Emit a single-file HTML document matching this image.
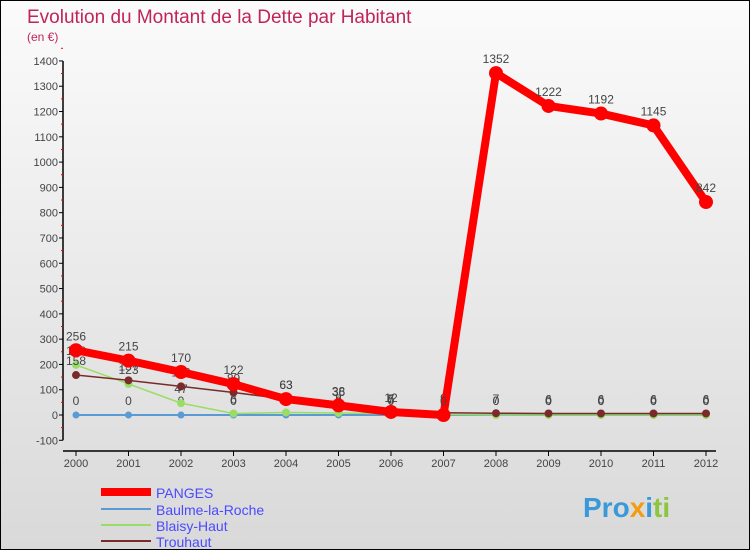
<!DOCTYPE html>
<html><head><meta charset="utf-8"><style>
body{margin:0;}
#c{width:748px;height:548px;border:1px solid #000;background:linear-gradient(#fbfbfb,#d9d9d9);position:relative;font-family:"Liberation Sans",sans-serif;overflow:hidden}
</style></head><body>
<div id="c">
<svg width="748" height="548" id="s">
<text x="26" y="22" font-size="19" fill="#c0245a">Evolution du Montant de la Dette par Habitant</text>
<text x="26" y="40" font-size="12" fill="#c0245a">(en €)</text>
<g id="axes"></g><g id="series"></g>
<g>
<line x1="100" y1="491" x2="150" y2="491" stroke="#f00" stroke-width="8"/>
<text x="155" y="497" font-size="14" fill="#4a4aff">PANGES</text>
<line x1="100" y1="508" x2="150" y2="508" stroke="#5b9bd5" stroke-width="2"/>
<text x="155" y="514" font-size="14" fill="#4a4aff">Baulme-la-Roche</text>
<line x1="100" y1="524" x2="150" y2="524" stroke="#99dd66" stroke-width="2"/>
<text x="155" y="530" font-size="14" fill="#4a4aff">Blaisy-Haut</text>
<line x1="100" y1="540" x2="150" y2="540" stroke="#7a2a2a" stroke-width="2"/>
<text x="155" y="546" font-size="14" fill="#4a4aff">Trouhaut</text>
</g>
<text x="582" y="516" font-size="28" font-weight="bold" fill="#3a9ad9">Pro<tspan fill="#f39c12">x</tspan><tspan fill="#3a9ad9">i</tspan><tspan fill="#8cc63f">ti</tspan></text>
</svg></div>
<script>
const years=[2000,2001,2002,2003,2004,2005,2006,2007,2008,2009,2010,2011,2012];
const panges=[256,215,170,122,63,38,12,0,1352,1222,1192,1145,842];
const baulme=[0,0,0,0,0,0,0,0,0,0,0,0,0];
const blaisy=[198,123,47,6,10,8,5,2,0,0,0,0,0];
const trouhaut=[158,137,113,89,63,36,7,9,7,6,6,6,6];
const yTicks=[-100,0,100,200,300,400,500,600,700,800,900,1000,1100,1200,1300,1400];
const NS="http://www.w3.org/2000/svg";
const X=i=>75+i*52.5, Y=v=>414-v*0.2529;
function mk(t,a,p){const e=document.createElementNS(NS,t);for(const k in a)e.setAttribute(k,a[k]);p.appendChild(e);return e;}
const ax=document.getElementById('axes'), sr=document.getElementById('series');
let l=mk('line',{x1:62,y1:Y(1400),x2:62,y2:Y(-100),stroke:'#000','stroke-width':1.5},ax);


l=mk('line',{x1:62,y1:450,x2:715,y2:450,stroke:'#000','stroke-width':1.5},ax);


yTicks.forEach(v=>{mk('line',{x1:58,y1:Y(v),x2:62,y2:Y(v),stroke:'#000'},ax);
mk('line',{x1:60,y1:Y(v+50),x2:62,y2:Y(v+50),stroke:'#f00'},ax);
const t=mk('text',{x:57,y:Y(v)+4,'font-size':11,fill:'#444','text-anchor':'end'},ax);t.textContent=v;

});
years.forEach((y,i)=>{mk('line',{x1:X(i),y1:450,x2:X(i),y2:455,stroke:'#000'},ax);
const t=mk('text',{x:X(i),y:466,'font-size':11,fill:'#444','text-anchor':'middle'},ax);t.textContent=y;

});
function series(d,col,w,r,name){const g=mk('g',{},sr);


mk('polyline',{points:d.map((v,i)=>X(i)+','+Y(v)).join(' '),fill:'none',stroke:col,'stroke-width':w,'stroke-linejoin':'round'},g);
d.forEach((v,i)=>{const c=mk('circle',{cx:X(i),cy:Y(v),r:r,fill:col},g);


const t=mk('text',{x:X(i),y:Y(v)-10,'font-size':12,fill:'#444','text-anchor':'middle'},g);t.textContent=v;});}
series(baulme,'#5b9bd5',2,3.5,'baulme');
series(blaisy,'#99dd66',1.5,4,'blaisy');
series(trouhaut,'#7a2a2a',1.5,4,'trouhaut');
series(panges,'#f00',8,7,'panges');
</script>
</body></html>
